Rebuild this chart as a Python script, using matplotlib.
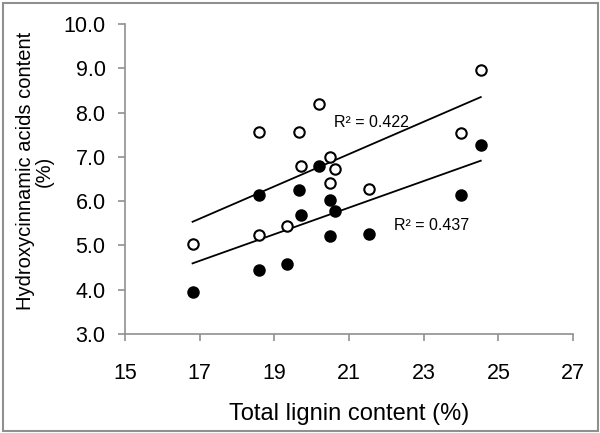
import numpy as np
import matplotlib
matplotlib.use("Agg")
import matplotlib.pyplot as plt
from matplotlib.patches import Rectangle

plt.rcParams['font.family'] = ['Liberation Sans', 'DejaVu Sans']

lignin = [16.81, 18.58, 18.58, 19.34, 19.65, 19.72, 20.19, 20.48, 20.48, 20.62, 21.53, 23.99, 24.53]
hca_open = [5.03, 7.55, 5.24, 5.45, 7.57, 6.80, 8.19, 7.00, 6.40, 6.72, 6.27, 7.53, 8.96]
hca_filled = [3.94, 6.14, 4.45, 4.59, 6.25, 5.69, 6.79, 6.03, 5.21, 5.78, 5.25, 6.15, 7.27]
r2_labels = ["R² = 0.422", "R² = 0.437"]
x_ticks = [15, 17, 19, 21, 23, 25, 27]
y_ticks = [3.0, 4.0, 5.0, 6.0, 7.0, 8.0, 9.0, 10.0]

fig = plt.figure(figsize=(6, 4.33), dpi=100)
ax = fig.add_axes([0.2083, 0.2286, 0.955 - 0.2083, 0.9446 - 0.2286])

x = np.array(lignin)
for yv, fc in [(hca_open, 'white'), (hca_filled, 'black')]:
    y = np.array(yv)
    ax.plot(x, y, 'o', ms=7.5, mfc=fc, mec='black', mew=1.5, zorder=3)
    k, b = np.polyfit(x, y, 1)
    xs = np.array([x.min(), x.max()])
    ax.plot(xs, k * xs + b, color='black', lw=1.3, zorder=2)

ax.text(20.6, 7.78, r2_labels[0], fontsize=11.5, va='center', ha='left')
ax.text(22.2, 5.44, r2_labels[1], fontsize=11.5, va='center', ha='left')

ax.set_xlim(15, 27)
ax.set_ylim(3, 10)
ax.set_xticks(x_ticks)
ax.set_yticks(y_ticks)
ax.set_yticklabels([f"{v:.1f}" for v in y_ticks])
for s in ['top', 'right']:
    ax.spines[s].set_visible(False)
for s in ['left', 'bottom']:
    ax.spines[s].set_color('#909090')
    ax.spines[s].set_linewidth(1.2)
ax.tick_params(axis='both', colors='#909090', labelcolor='black', labelsize=15.5, length=5, width=1.2)
ax.tick_params(axis='x', pad=16)
ax.tick_params(axis='y', pad=9)

fig.text(349 / 600, 1 - 420 / 433, "Total lignin content (%)", fontsize=17,
         ha='center', va='baseline')
fig.text(35 / 600, 1 - 171 / 433, "Hydroxycinnamic acids content\n(%)", fontsize=14.5,
         rotation=90, ha='center', va='center', multialignment='center', linespacing=1.0)

fig.patches.append(Rectangle((3 / 600, 2 / 433), 595 / 600, 428 / 433, transform=fig.transFigure,
                             fill=False, edgecolor='#909090', lw=1.5))

fig.savefig("out.png", dpi=100)
